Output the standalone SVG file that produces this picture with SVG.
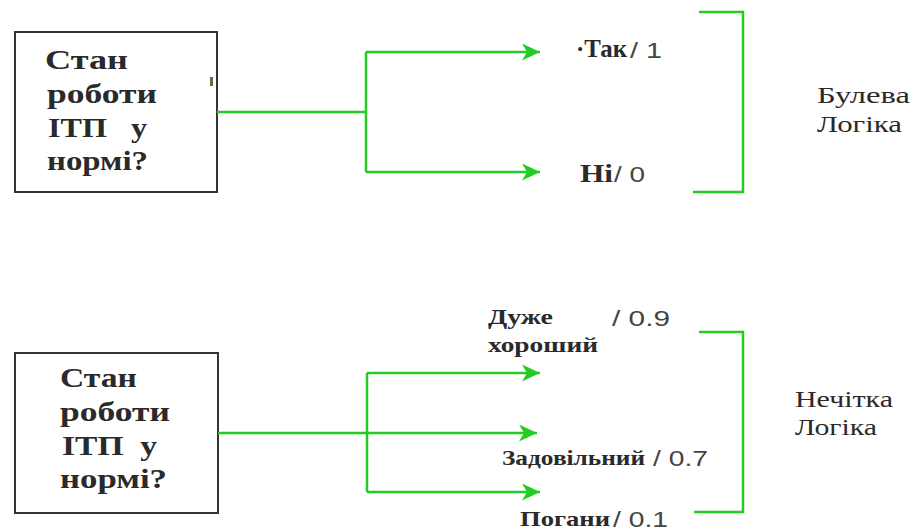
<svg xmlns="http://www.w3.org/2000/svg" width="916" height="531" viewBox="0 0 916 531">
  <defs>
    <marker id="arrow" markerUnits="userSpaceOnUse" markerWidth="20" markerHeight="18" refX="18" refY="8.5" orient="auto">
      <path d="M0,0 L18,8.5 L0,17 L5,8.5 Z" fill="#22cc22"/>
    </marker>
    <style>
      .box { fill: #ffffff; stroke: #333333; stroke-width: 2; }
      .wire { fill: none; stroke: #22cc22; stroke-width: 2.5; }
      .serif { font-family: Liberation Serif, Times New Roman, Times, serif; }
      .sans { font-family: Liberation Sans, Arial, Helvetica, sans-serif; }
      .q { font-weight: bold; font-size: 28px; fill: #2a2a2a; }
      .lbl { font-weight: bold; font-size: 21px; fill: #2a2a2a; }
      .ans { font-weight: bold; font-size: 26px; fill: #2a2a2a; }
      .val { font-size: 22px; fill: #444444; }
      .kind { font-size: 24px; fill: #2a2a2a; }
    </style>
  </defs>

  <!-- Boolean logic: question node -->
  <g id="question-boolean" class="serif">
    <rect class="box" x="15" y="32" width="202" height="160"/>
    <text class="q" x="45" y="69" textLength="83" lengthAdjust="spacingAndGlyphs">Стан</text>
    <text class="q" x="47" y="103" textLength="110" lengthAdjust="spacingAndGlyphs">роботи</text>
    <text class="q" x="48" y="137" textLength="99" lengthAdjust="spacingAndGlyphs" xml:space="preserve">ІТП   у</text>
    <text class="q" x="47" y="170" textLength="101" lengthAdjust="spacingAndGlyphs">нормі?</text>
    <rect x="210" y="77" width="3" height="9" fill="#6b6a3a"/>
  </g>

  <!-- Boolean logic: outcomes -->
  <g id="answer-yes">
    <text class="ans serif" x="576" y="57" textLength="51" lengthAdjust="spacingAndGlyphs">·Так</text>
    <text class="val sans" x="630" y="58" textLength="32" lengthAdjust="spacingAndGlyphs">/ 1</text>
  </g>
  <g id="answer-no">
    <text class="ans serif" x="580" y="182" textLength="33" lengthAdjust="spacingAndGlyphs">Hi</text>
    <text class="val sans" x="614" y="182" textLength="31" lengthAdjust="spacingAndGlyphs">/ 0</text>
  </g>
  <g id="label-boolean" class="serif">
    <text class="kind" x="817" y="103" textLength="93" lengthAdjust="spacingAndGlyphs">Булева</text>
    <text class="kind" x="817" y="132" textLength="85" lengthAdjust="spacingAndGlyphs">Логіка</text>
  </g>

  <!-- Fuzzy logic: question node -->
  <g id="question-fuzzy" class="serif">
    <rect class="box" x="15" y="353" width="203" height="160"/>
    <text class="q" x="60" y="387" textLength="77" lengthAdjust="spacingAndGlyphs">Стан</text>
    <text class="q" x="60" y="421" textLength="110" lengthAdjust="spacingAndGlyphs">роботи</text>
    <text class="q" x="62" y="455" textLength="95" lengthAdjust="spacingAndGlyphs" xml:space="preserve">ІТП  у</text>
    <text class="q" x="60" y="488" textLength="107" lengthAdjust="spacingAndGlyphs">нормі?</text>
  </g>

  <!-- Fuzzy logic: outcomes -->
  <g id="answer-very-good">
    <text class="lbl serif" x="488" y="324" textLength="65" lengthAdjust="spacingAndGlyphs">Дуже</text>
    <text class="val sans" x="612" y="326" textLength="58" lengthAdjust="spacingAndGlyphs">/ 0.9</text>
    <text class="lbl serif" x="488" y="352" textLength="110" lengthAdjust="spacingAndGlyphs">хороший</text>
  </g>
  <g id="answer-satisfactory">
    <text class="lbl serif" x="502" y="465" textLength="143" lengthAdjust="spacingAndGlyphs">Задовільний</text>
    <text class="val sans" x="653" y="466" textLength="55" lengthAdjust="spacingAndGlyphs">/ 0.7</text>
  </g>
  <g id="answer-bad">
    <text class="lbl serif" x="520" y="526" textLength="90" lengthAdjust="spacingAndGlyphs">Погани</text>
    <text class="val sans" x="613" y="527" textLength="55" lengthAdjust="spacingAndGlyphs">/ 0.1</text>
  </g>
  <g id="label-fuzzy" class="serif">
    <text class="kind" x="795" y="407" textLength="98" lengthAdjust="spacingAndGlyphs">Нечітка</text>
    <text class="kind" x="795" y="435" textLength="82" lengthAdjust="spacingAndGlyphs">Логіка</text>
  </g>

  <!-- Connectors and brackets -->
  <g id="connectors">
    <path class="wire" d="M217,112 H366"/>
    <path class="wire" d="M366,52 V172"/>
    <path class="wire" d="M366,52 H540" marker-end="url(#arrow)"/>
    <path class="wire" d="M366,172 H540" marker-end="url(#arrow)"/>
    <path class="wire" d="M699,12 H743 V192 H693"/>

    <path class="wire" d="M218,433 H537" marker-end="url(#arrow)"/>
    <path class="wire" d="M367,373 V492"/>
    <path class="wire" d="M367,373 H540" marker-end="url(#arrow)"/>
    <path class="wire" d="M367,492 H540" marker-end="url(#arrow)"/>
    <path class="wire" d="M699,332 H743 V512 H694"/>
  </g>
</svg>
